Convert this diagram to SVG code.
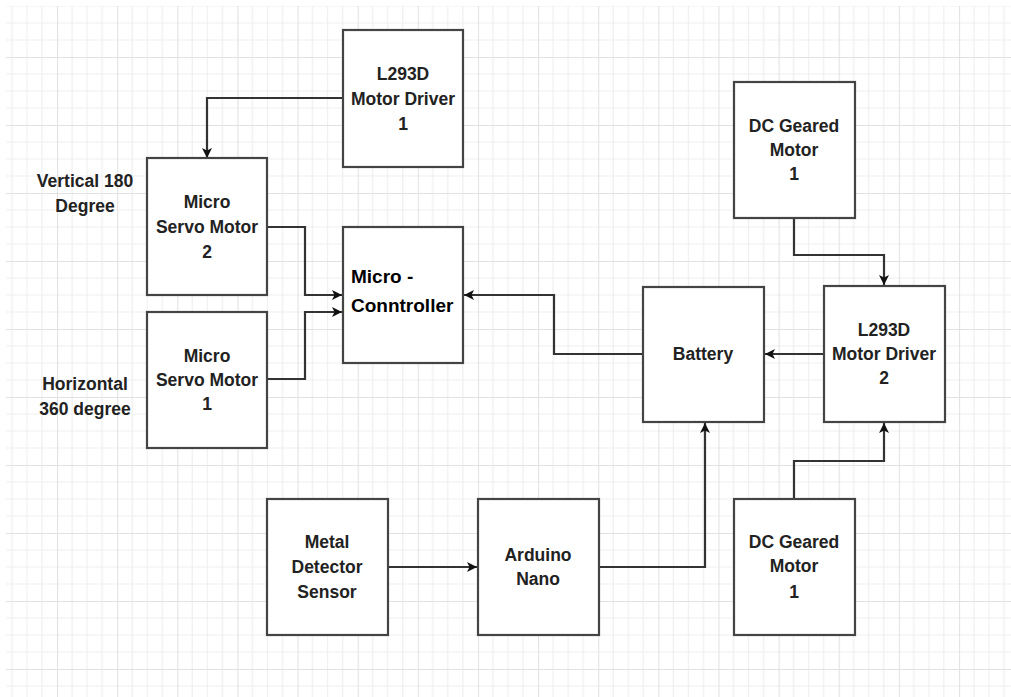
<svg xmlns="http://www.w3.org/2000/svg" width="1011" height="697" viewBox="0 0 1011 697">
<defs>
<pattern id="grid" patternUnits="userSpaceOnUse" x="-3.13" y="-11" width="60.13" height="68">
<path d="M15.03 0V68M30.07 0V68M45.1 0V68M0 17H60.13M0 34H60.13M0 51H60.13" stroke="#efefef" stroke-width="1.2" fill="none"/>
<path d="M0 0V68M0 0H60.13" stroke="#e2e2e2" stroke-width="2.2" fill="none"/>
</pattern>
<marker id="arr" viewBox="0 0 10 10" refX="10" refY="5" markerWidth="10" markerHeight="10" markerUnits="userSpaceOnUse" orient="auto">
<path d="M0 0L10 5L0 10L2.5 5Z" fill="#111"/>
</marker>
</defs>
<style>
.box{fill:#fff;stroke:#444;stroke-width:2.2}
.t{font-family:"Liberation Sans",Arial,sans-serif;font-size:17.5px;font-weight:bold;fill:#222;text-anchor:middle}
.t2{font-family:"Liberation Sans",Arial,sans-serif;font-size:19px;font-weight:bold;fill:#000}
.c{fill:none;stroke:#333;stroke-width:2.2;marker-end:url(#arr)}
.cn{fill:none;stroke:#333;stroke-width:2.2}
</style>
<rect width="1011" height="697" fill="#fff"/>
<rect x="6" y="6" width="1005" height="691" fill="url(#grid)"/>

<g id="connectors">
<path class="c" d="M343 98H207V158"/>
<path class="c" d="M267 227H305V295H342"/>
<path class="c" d="M267 379H305V312H342"/>
<path class="c" d="M643 354H554V295H464"/>
<path class="c" d="M824 354H765"/>
<path class="c" d="M794 218V255H884V285"/>
<path class="c" d="M794 499V461H884V423"/>
<path class="c" d="M388 567H477"/>
<path class="c" d="M599 567H705V423"/>
</g>

<g id="l293d1">
<rect class="box" x="343" y="30" width="120" height="137"/>
<text class="t" x="403" y="80">L293D</text>
<text class="t" x="403" y="105">Motor Driver</text>
<text class="t" x="403" y="130">1</text>
</g>
<g id="servo2">
<rect class="box" x="147" y="158" width="120" height="137"/>
<text class="t" x="207" y="208">Micro</text>
<text class="t" x="207" y="233">Servo Motor</text>
<text class="t" x="207" y="258">2</text>
</g>
<g id="servo1">
<rect class="box" x="147" y="312" width="120" height="136"/>
<text class="t" x="207" y="362">Micro</text>
<text class="t" x="207" y="386">Servo Motor</text>
<text class="t" x="207" y="410">1</text>
</g>
<g id="label-vertical">
<text class="t" x="85" y="187">Vertical 180</text>
<text class="t" x="85" y="212">Degree</text>
</g>
<g id="label-horizontal">
<text class="t" x="85" y="390">Horizontal</text>
<text class="t" x="85" y="415">360 degree</text>
</g>
<g id="microcontroller">
<rect class="box" x="343" y="227" width="120" height="136"/>
<text class="t2" x="351" y="283">Micro -</text>
<text class="t2" x="351" y="312">Conntroller</text>
</g>
<g id="battery">
<rect class="box" x="643" y="287" width="121" height="135"/>
<text class="t" x="703" y="360">Battery</text>
</g>
<g id="l293d2">
<rect class="box" x="824" y="286" width="121" height="136"/>
<text class="t" x="884" y="336">L293D</text>
<text class="t" x="884" y="360">Motor Driver</text>
<text class="t" x="884" y="384">2</text>
</g>
<g id="dcmotor-top">
<rect class="box" x="734" y="82" width="121" height="136"/>
<text class="t" x="794" y="132">DC Geared</text>
<text class="t" x="794" y="156">Motor</text>
<text class="t" x="794" y="180">1</text>
</g>
<g id="metal-detector">
<rect class="box" x="267" y="499" width="121" height="136"/>
<text class="t" x="327" y="548">Metal</text>
<text class="t" x="327" y="573">Detector</text>
<text class="t" x="327" y="598">Sensor</text>
</g>
<g id="arduino">
<rect class="box" x="478" y="499" width="121" height="136"/>
<text class="t" x="538" y="561">Arduino</text>
<text class="t" x="538" y="585">Nano</text>
</g>
<g id="dcmotor-bottom">
<rect class="box" x="734" y="499" width="121" height="136"/>
<text class="t" x="794" y="548">DC Geared</text>
<text class="t" x="794" y="572">Motor</text>
<text class="t" x="794" y="598">1</text>
</g>
</svg>
